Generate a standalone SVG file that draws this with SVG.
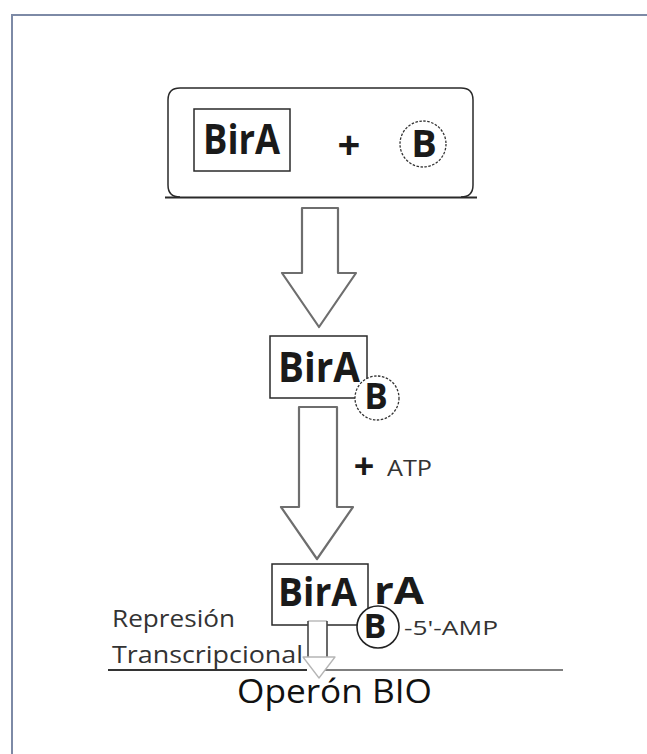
<svg xmlns="http://www.w3.org/2000/svg" width="647" height="754" viewBox="0 0 647 754">
<style>
.bg{fill:#ffffff}
.frame{stroke:#7d8aa6;stroke-width:2;fill:none}
.box{fill:#ffffff;stroke:#2a2a2a;stroke-width:1.5}
.big{font-family:"Open Sans","DejaVu Sans",sans-serif;font-weight:bold;fill:#1a1a1a}
.lbl{font-family:"Open Sans","DejaVu Sans",sans-serif;fill:#333333}
.arrow{fill:#ffffff;stroke:#6e6e6e;stroke-width:2.2;stroke-linejoin:round}
.dash{fill:#ffffff;stroke:#333333;stroke-width:1.3;stroke-dasharray:2.5 1.5}
</style>
<rect class="bg" x="0" y="0" width="647" height="754"/>
<g id="frame">
<path class="frame" d="M12 754 V15 H647"/>
</g>
<g id="connectors">
<polygon class="arrow" points="302,208 338,208 338,273 356,273 319,327 282,273 302,273"/>
<polygon class="arrow" points="299,407 337,407 337,507 353,507 317,559 281,507 299,507"/>
</g>
<g id="node-start">
<path d="M180 197 Q168 197 168 185 V100 Q168 88 180 88 H461 Q473 88 473 100 V185 Q473 197 461 197" fill="none" stroke="#2a2a2a" stroke-width="1.5"/>
<line x1="165" y1="197.5" x2="477" y2="197.5" stroke="#2a2a2a" stroke-width="2"/>
<rect class="box" x="194" y="109" width="96" height="62"/>
<text class="big" x="203" y="154" font-size="41" textLength="77" lengthAdjust="spacingAndGlyphs">BirA</text>
<text class="big" x="349" y="159" font-size="40" text-anchor="middle">+</text>
<circle class="dash" cx="423" cy="144" r="23"/>
<text class="big" x="424" y="157" font-size="38" text-anchor="middle">B</text>
</g>
<g id="node-complex">
<rect class="box" x="270" y="336" width="97" height="62"/>
<text class="big" x="278" y="382" font-size="41" textLength="82" lengthAdjust="spacingAndGlyphs">BirA</text>
<circle class="dash" cx="377" cy="398" r="22"/>
<text class="big" x="376" y="409" font-size="35" text-anchor="middle">B</text>
</g>
<g id="label-atp">
<text class="big" x="364" y="479" font-size="36" text-anchor="middle">+</text>
<text class="lbl" x="387" y="476" font-size="22" textLength="45" lengthAdjust="spacingAndGlyphs">ATP</text>
</g>
<g id="node-amp">
<path d="M308 625 H272 V564 H368 V610" fill="none" stroke="#2a2a2a" stroke-width="1.5"/>
<line x1="327" y1="625" x2="360" y2="625" stroke="#2a2a2a" stroke-width="1.5"/>
<text class="big" x="278" y="606" font-size="39" textLength="79" lengthAdjust="spacingAndGlyphs">BirA</text>
<circle cx="378" cy="627" r="21" fill="#ffffff" stroke="#222222" stroke-width="1.6"/>
<text class="big" x="375" y="638" font-size="34" text-anchor="middle">B</text>
<text class="big" x="374" y="604" font-size="37" textLength="50" lengthAdjust="spacingAndGlyphs">rA</text>
<text class="lbl" x="404" y="635" font-size="20" textLength="94" lengthAdjust="spacingAndGlyphs">-5'-AMP</text>
</g>
<g id="node-operon">
<text class="lbl" x="112" y="627" font-size="24" textLength="123" lengthAdjust="spacingAndGlyphs">Represión</text>
<text class="lbl" x="112" y="663" font-size="24" textLength="191" lengthAdjust="spacingAndGlyphs">Transcripcional</text>
<line x1="108" y1="670" x2="307" y2="670" stroke="#333333" stroke-width="2.2"/>
<line x1="325" y1="670" x2="563" y2="670" stroke="#555555" stroke-width="1.5"/>
<text x="237" y="703" font-family="Open Sans, DejaVu Sans, sans-serif" font-weight="500" font-size="32" fill="#111111" textLength="195" lengthAdjust="spacingAndGlyphs">Operón BIO</text>
</g>
<g id="connector-repression">
<line x1="308" y1="621" x2="327" y2="621" stroke="#bbbbbb" stroke-width="1.5"/>
<line x1="308" y1="621" x2="308" y2="657" stroke="#444444" stroke-width="1.6"/>
<line x1="327" y1="621" x2="327" y2="657" stroke="#444444" stroke-width="1.6"/>
<polygon points="303,657 335,657 319,678" fill="#ffffff" stroke="#b5b5b5" stroke-width="1.3" stroke-linejoin="round"/>
</g>
</svg>
